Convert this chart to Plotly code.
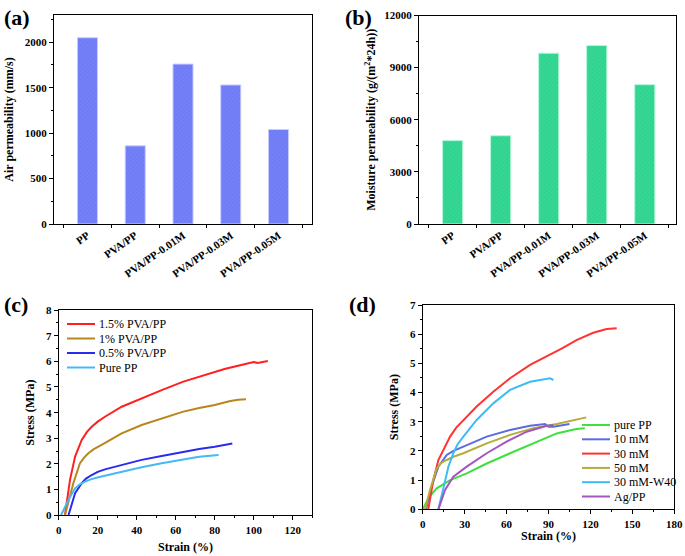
import plotly.graph_objects as go

# ---------------- data ----------------
bar_categories = ["PP", "PVA/PP", "PVA/PP-0.01M", "PVA/PP-0.03M", "PVA/PP-0.05M"]
air_perm = [2050, 860, 1760, 1530, 1040]
moist_perm = [4800, 5080, 9830, 10270, 8020]

# panel (c)
c_names = ["1.5% PVA/PP", "1% PVA/PP", "0.5% PVA/PP", "Pure PP"]
c_red_x = [3.2, 5.8, 8.4, 11.8, 14.5, 16.9, 20, 23.7, 32.3, 42.5, 52.8, 63.9, 75, 85, 93, 100, 102, 104.7, 107.2]
c_red_y = [0, 1.38, 2.29, 2.94, 3.25, 3.45, 3.65, 3.84, 4.23, 4.56, 4.88, 5.21, 5.47, 5.7, 5.85, 5.97, 5.94, 5.97, 6.01]
c_brn_x = [3.2, 7.5, 10.9, 13, 15.2, 18, 22, 32.3, 42.5, 52.8, 63.9, 72, 80, 88, 92, 96]
c_brn_y = [0, 1.25, 2.03, 2.25, 2.42, 2.58, 2.74, 3.19, 3.52, 3.78, 4.04, 4.18, 4.3, 4.45, 4.5, 4.52]
c_blu_x = [5, 8.4, 11.8, 14, 16.9, 20, 23.7, 32.3, 42.5, 52.8, 63.9, 72, 80, 89]
c_blu_y = [0, 0.86, 1.25, 1.43, 1.57, 1.69, 1.79, 1.96, 2.16, 2.31, 2.48, 2.58, 2.67, 2.8]
c_lbl_x = [1.2, 4.95, 8.4, 11, 13.5, 16.5, 20.3, 32.3, 42.5, 52.8, 63.9, 72, 82]
c_lbl_y = [0, 0.6, 1.05, 1.22, 1.31, 1.4, 1.48, 1.7, 1.87, 2.03, 2.19, 2.28, 2.35]

# panel (d)
d_names = ["pure PP", "10 mM", "30 mM", "50 mM", "30 mM-W40", "Ag/PP"]
d_grn_x = [0, 4, 10, 19.6, 31.5, 45.8, 62.5, 79.2, 95.9, 105, 110, 116]
d_grn_y = [0, 0.38, 0.72, 1.0, 1.23, 1.57, 1.92, 2.26, 2.6, 2.7, 2.75, 2.78]
d_blu_x = [2.4, 6.4, 11.2, 17.2, 22, 29.1, 45.8, 62.5, 76.8, 87.5, 89.9, 93.5, 105]
d_blu_y = [0, 0.78, 1.46, 1.86, 2.0, 2.15, 2.49, 2.72, 2.86, 2.92, 2.83, 2.83, 2.92]
d_red_x = [4, 5.2, 7.6, 11.2, 14.8, 19.6, 24, 29.1, 38.6, 50.5, 62.5, 76.8, 91.1, 100, 110, 122, 131.6, 138.8]
d_red_y = [0, 0.32, 1.0, 1.69, 2.03, 2.49, 2.8, 3.06, 3.52, 4.03, 4.49, 4.95, 5.29, 5.52, 5.8, 6.05, 6.18, 6.2]
d_olv_x = [1.7, 5.2, 10, 13, 17.2, 22, 29.1, 45.8, 62.5, 79.2, 95.9, 105, 117]
d_olv_y = [0, 0.66, 1.4, 1.58, 1.69, 1.8, 1.92, 2.26, 2.55, 2.78, 2.92, 3.02, 3.15]
d_lbl_x = [11.2, 14.8, 18.4, 21.9, 25, 29.1, 38.6, 50.5, 62.5, 76.8, 88, 91.1, 93.5]
d_lbl_y = [0, 0.78, 1.46, 1.92, 2.23, 2.49, 3.06, 3.63, 4.09, 4.37, 4.47, 4.49, 4.43]
d_pur_x = [11.2, 16, 21.9, 31.5, 45.8, 60, 74.4, 88.7, 93.5]
d_pur_y = [0, 0.66, 1.12, 1.46, 1.92, 2.32, 2.66, 2.86, 2.89]

c_colors = ["#ff1f1f", "#b8861b", "#2b2bf0", "#45b8f5"]
d_colors = ["#3ee03e", "#5b6ce0", "#ff3333", "#b5ad3a", "#3bbcf7", "#a455c0"]

FONT = "Liberation Serif"
W, H = 685, 556

fig = go.Figure()


def px_x(a, b):
    return [a / W, b / W]


def px_y(top, bot):
    return [1 - bot / H, 1 - top / H]


# bar traces
fig.add_trace(go.Bar(x=bar_categories, y=air_perm, width=0.42,
                     marker=dict(color="#6f7cf5", line=dict(color="#c8ccff", width=1),
                                 pattern=dict(shape="/", fgcolor="#8a95ff", size=3, solidity=0.25)),
                     xaxis="x", yaxis="y", showlegend=False))
fig.add_trace(go.Bar(x=bar_categories, y=moist_perm, width=0.42,
                     marker=dict(color="#2fd48f", line=dict(color="#b8f5da", width=1),
                                 pattern=dict(shape="/", fgcolor="#5ee3aa", size=3, solidity=0.25)),
                     xaxis="x2", yaxis="y2", showlegend=False))

for n, xs, ys, col in zip(c_names, [c_red_x, c_brn_x, c_blu_x, c_lbl_x],
                          [c_red_y, c_brn_y, c_blu_y, c_lbl_y], c_colors):
    fig.add_trace(go.Scatter(x=xs, y=ys, name=n, mode="lines",
                             line=dict(color=col, width=2),
                             xaxis="x3", yaxis="y3", showlegend=False))

for n, xs, ys, col in zip(d_names, [d_grn_x, d_blu_x, d_red_x, d_olv_x, d_lbl_x, d_pur_x],
                          [d_grn_y, d_blu_y, d_red_y, d_olv_y, d_lbl_y, d_pur_y], d_colors):
    fig.add_trace(go.Scatter(x=xs, y=ys, name=n, mode="lines",
                             line=dict(color=col, width=2),
                             xaxis="x4", yaxis="y4", showlegend=False))

tickfont = dict(family=FONT, size=11, color="black", weight="bold")
titlefont = dict(family=FONT, size=12, color="black", weight="bold")
axbase = dict(showline=True, linecolor="black", linewidth=1, mirror=True, ticks="outside",
              ticklen=4, tickcolor="black", showgrid=False, zeroline=False, tickfont=tickfont,
              automargin=False)
minor_t = dict(ticks="outside", ticklen=2, tickcolor="black", showgrid=False)

fig.update_layout(
    width=W, height=H, margin=dict(l=0, r=0, t=0, b=0, autoexpand=False),
    plot_bgcolor="white", paper_bgcolor="white", showlegend=False,
    xaxis=dict(axbase, domain=px_x(54, 312), anchor="y", range=[-0.7, 4.7], tickangle=-35,
               tickson="boundaries", ticklen=3),
    yaxis=dict(axbase, domain=px_y(15, 224), anchor="x", range=[0, 2300], dtick=500,
               minor=dict(minor_t, dtick=250),
               title=dict(text="Air permeability (mm/s)", font=titlefont, standoff=8)),
    xaxis2=dict(axbase, domain=px_x(419, 676), anchor="y2", range=[-0.7, 4.65], tickangle=-35,
                tickson="boundaries", ticklen=3),
    yaxis2=dict(axbase, domain=px_y(15.5, 224), anchor="x2", range=[0, 12000], dtick=3000,
                tickformat="d", minor=dict(minor_t, dtick=1500),
                title=dict(text="Moisture permeability (g/(m<sup>2</sup>*24h))", font=titlefont, standoff=6)),
    xaxis3=dict(axbase, domain=px_x(58.7, 312.3), anchor="y3", range=[0, 130], dtick=20,
                minor=dict(minor_t, dtick=10),
                title=dict(text="Strain (%)", font=titlefont, standoff=8)),
    yaxis3=dict(axbase, domain=px_y(310, 515.3), anchor="x3", range=[0, 8], dtick=1,
                minor=dict(minor_t, dtick=0.5),
                title=dict(text="Stress (MPa)", font=titlefont, standoff=8)),
    xaxis4=dict(axbase, domain=px_x(422.7, 674.3), anchor="y4", range=[0, 180], dtick=30,
                minor=dict(minor_t, dtick=15),
                title=dict(text="Strain (%)", font=titlefont, standoff=2)),
    yaxis4=dict(axbase, domain=px_y(305, 509.3), anchor="x4", range=[0, 7], dtick=1,
                minor=dict(minor_t, dtick=0.5),
                title=dict(text="Stress (MPa)", font=titlefont, standoff=8)),
)

# panel labels
labels = [("(a)", 2, 3), ("(b)", 343, 3), ("(c)", 2, 290), ("(d)", 347, 290)]
for t, x, y in labels:
    fig.add_annotation(text=t, x=x / W, y=1 - y / H, xref="paper", yref="paper",
                       xanchor="left", yanchor="top", showarrow=False,
                       font=dict(family=FONT, size=22, color="black", weight="bold"))


# compact legends (drawn as short line samples + text)
def add_legend(names, colors, x0, y0, step, seg):
    for i, (n, col) in enumerate(zip(names, colors)):
        yy = 1 - (y0 + i * step) / H
        fig.add_shape(type="line", xref="paper", yref="paper", x0=x0 / W, x1=(x0 + seg) / W,
                      y0=yy, y1=yy, line=dict(color=col, width=2))
        fig.add_annotation(text=n, x=(x0 + seg + 2) / W, y=yy, xref="paper", yref="paper",
                           xanchor="left", yanchor="middle", showarrow=False,
                           font=dict(family=FONT, size=12, color="black"))


add_legend(c_names, c_colors, 67, 324, 14.5, 28)
add_legend(d_names, d_colors, 582, 425, 14.3, 28)

fig.write_html("out.html", config={"displayModeBar": False},
               post_script="document.body.style.margin='0';document.body.style.overflow='hidden';")
